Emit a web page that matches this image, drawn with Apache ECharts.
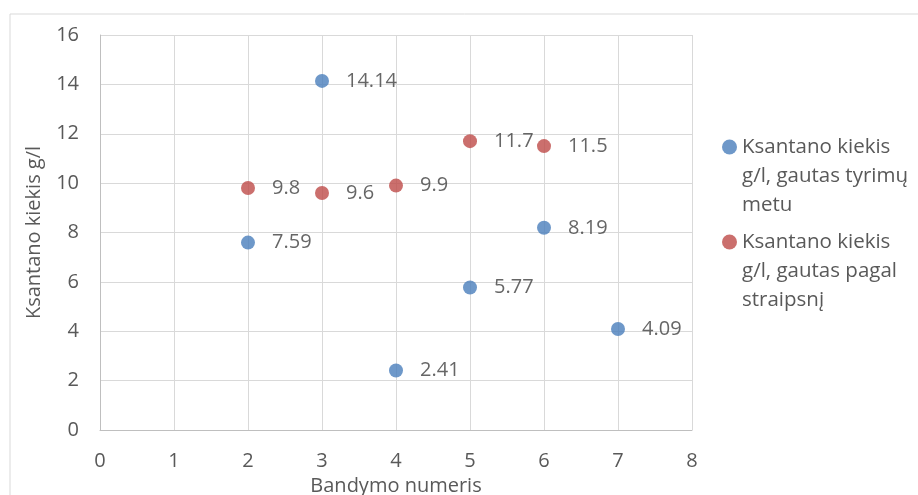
<!DOCTYPE html>
<html>
<head>
<meta charset="utf-8">
<script src="https://cdn.jsdelivr.net/npm/echarts@6/dist/echarts.min.js"></script>
<style>
  html, body { margin: 0; padding: 0; background: #fff; }
  #chart { width: 918px; height: 495px; }
</style>
</head>
<body>
<div id="chart"></div>
<script>
// Ksantano kiekis pagal bandymo numerį
const seriesNames = [
  'Ksantano kiekis g/l, gautas tyrimų metu',
  'Ksantano kiekis g/l, gautas pagal straipsnį'
];
const legendLabels = [
  'Ksantano kiekis\ng/l, gautas tyrimų\nmetu',
  'Ksantano kiekis\ng/l, gautas pagal\nstraipsnį'
];
const trialsMeasured = [2, 3, 4, 5, 6, 7];
const valuesMeasured = [7.59, 14.14, 2.41, 5.77, 8.19, 4.09];
const trialsArticle = [2, 3, 4, 5, 6];
const valuesArticle = [9.8, 9.6, 9.9, 11.7, 11.5];

const FONT = '"Open Sans", "Liberation Sans", sans-serif';
const TEXT = '#595959';
const colors = ['#4a7ebb', '#be4b48'];

const pairs = (xs, ys) => xs.map((x, i) => [x, ys[i]]);

const chart = echarts.init(document.getElementById('chart'));
const LH = 29;

// Legend entries wrap over three lines; two leading blank lines keep the
// marker level with the first line of text.
function legendFor(i, iconY) {
  return {
    data: [seriesNames[i]],
    left: 722,
    top: iconY - 2.5 * LH,
    icon: 'circle',
    itemWidth: 15,
    itemHeight: 15,
    itemGap: 0,
    padding: 0,
    formatter: () => '\n\n' + legendLabels[i],
    textStyle: {
      fontFamily: FONT,
      fontSize: 20.5,
      color: TEXT,
      lineHeight: LH
    }
  };
}

const labelStyle = {
  show: true, position: 'right', distance: 17,
  fontFamily: FONT, fontSize: 20, color: '#404040',
  formatter: p => String(p.value[1])
};

chart.setOption({
  animation: false,
  textStyle: { fontFamily: FONT },
  graphic: [{
    type: 'rect',
    shape: { x: 10, y: 14, width: 930, height: 500 },
    style: { fill: 'none', stroke: '#d9d9d9', lineWidth: 1 },
    silent: true
  }],
  legend: [legendFor(0, 147), legendFor(1, 242)],
  grid: { left: 100, top: 35, width: 592, height: 395, outerBoundsMode: 'none' },
  xAxis: {
    type: 'value',
    min: 0, max: 8, interval: 1,
    name: 'Bandymo numeris',
    nameLocation: 'middle',
    nameGap: 43,
    nameTextStyle: { fontFamily: FONT, fontSize: 20, color: TEXT },
    axisLine: { show: true, lineStyle: { color: '#bfbfbf', width: 1 } },
    axisTick: { show: false },
    axisLabel: { fontFamily: FONT, fontSize: 20, color: TEXT, margin: 21 },
    splitLine: { show: true, lineStyle: { color: '#d9d9d9', width: 1 } }
  },
  yAxis: {
    type: 'value',
    min: 0, max: 16, interval: 2,
    name: 'Ksantano kiekis g/l',
    nameLocation: 'middle',
    nameGap: 56,
    nameTextStyle: { fontFamily: FONT, fontSize: 20, color: TEXT },
    axisLine: { show: true, lineStyle: { color: '#bfbfbf', width: 1 } },
    axisTick: { show: false },
    axisLabel: { fontFamily: FONT, fontSize: 20, color: TEXT, margin: 21 },
    splitLine: { show: true, lineStyle: { color: '#d9d9d9', width: 1 } }
  },
  series: [
    {
      name: seriesNames[0],
      type: 'scatter',
      symbol: 'circle',
      symbolSize: 14,
      itemStyle: { color: colors[0] },
      data: pairs(trialsMeasured, valuesMeasured),
      label: labelStyle
    },
    {
      name: seriesNames[1],
      type: 'scatter',
      symbol: 'circle',
      symbolSize: 14,
      itemStyle: { color: colors[1] },
      data: pairs(trialsArticle, valuesArticle),
      label: labelStyle
    }
  ]
});
</script>
</body>
</html>
